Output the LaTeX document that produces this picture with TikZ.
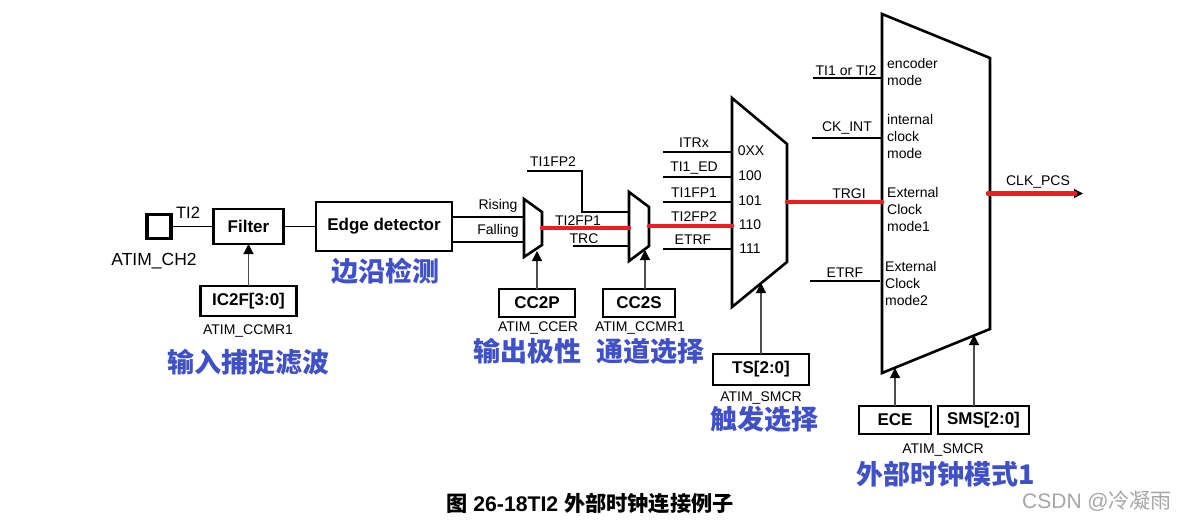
\documentclass[tikz,border=0pt]{standalone}
\usepackage{fontspec}
\setmainfont{Liberation Sans}
\newfontfamily\cjk{Noto Sans CJK SC}
\usetikzlibrary{arrows.meta}
\definecolor{cnblue}{RGB}{64,80,200}
\definecolor{sigred}{RGB}{238,28,37}
\tikzset{
	lab/.style={inner sep=0,font=\fontsize{14}{17}\selectfont},
	pinlab/.style={inner sep=0,font=\fontsize{16.5}{20}\selectfont},
	sel/.style={draw,line width=2.4,inner sep=0,outer sep=0,font=\fontsize{17}{20}\selectfont\bfseries},
	cnlab/.style={inner sep=0,text=cnblue,font=\fontsize{27}{30}\selectfont\cjk\bfseries},
	wire/.style={line width=1.7},
	sigline/.style={sigred,line width=4.5,line cap=round},
	ctl/.style={-{Triangle[length=10pt,width=10pt,black]},black!70,line width=1.2},
	mux/.style={line width=2.6}
}
\begin{document}
\begin{tikzpicture}[x=1pt,y=-1pt, line join=miter, >={Triangle[length=9pt,width=9pt]}]
			\useasboundingbox (0,0) rectangle (1177,520);
			% Filter, edge detector
			\node[draw,line width=3.6,minimum width=24,minimum height=24,inner sep=0,outer sep=0] (pinCH) at (159,226.5) {};
			\node[pinlab] (lbTI) at (188,213) {TI2};
			\node[pinlab,font=\fontsize{17.5}{20}\selectfont] (lbCH) at (154,261) {ATIM\_CH2};
			\node[sel,minimum width=70,minimum height=35] (filter) at (248.5,226.5) {Filter};
			\node[sel,minimum width=136,minimum height=49] (edge) at (384,226.5) {Edge detector};
			\node[sel,minimum width=96,minimum height=30] (icf) at (248.5,301) {IC2F[3:0]};
			\node[lab] (lbCCMRa) at (248,331) {ATIM\_CCMR1};
			\node[cnlab] (cnFilter) at (248,362) {输入捕捉滤波};
			\node[cnlab] (cnEdge) at (385,271) {边沿检测};
			\draw[wire] (pinCH) -- (filter);
			\draw[wire] (filter) -- (edge);
			\draw[ctl] (icf) -- (filter);
			% Polarity mux
			\coordinate (ma) at (524,199);
			\coordinate (mb) at (542,212);
			\coordinate (mc) at (542,245);
			\coordinate (md) at (524,257);
			\coordinate (riseL) at (452,217);
			\coordinate (riseR) at (524,217);
			\coordinate (fallL) at (452,242);
			\coordinate (fallR) at (524,242);
			\coordinate (mTip) at (537,251);
			\draw[wire] (riseL) -- (riseR);
			\draw[wire] (fallL) -- (fallR);
			\draw[mux] (ma) -- (mb) -- (mc) -- (md) -- cycle;
			\node[lab] (lbRise) at (498,206) {Rising};
			\node[lab] (lbFall) at (498,231) {Falling};
			\node[sel,minimum width=76,minimum height=28] (ccp) at (537,303) {CC2P};
			\node[lab] (lbCCER) at (538,328) {ATIM\_CCER};
			\node[cnlab] (cnPol) at (527,351) {输出极性};
			\draw[ctl] (ccp) -- (mTip);
			% Channel mux
			\coordinate (na) at (629,192);
			\coordinate (nb) at (649,207);
			\coordinate (nc) at (649,246);
			\coordinate (nd) at (629,261);
			\coordinate (fpL) at (527,171);
			\coordinate (fpK) at (582,171);
			\coordinate (fpJ) at (582,212);
			\coordinate (fpR) at (629,212);
			\coordinate (trcL) at (573,246);
			\coordinate (trcR) at (629,246);
			\coordinate (nTip) at (645,250);
			\coordinate (nTail) at (645,289);
			\draw[wire] (fpL) -- (fpK) -- (fpJ) -- (fpR);
			\draw[wire] (trcL) -- (trcR);
			\draw[mux] (na) -- (nb) -- (nc) -- (nd) -- cycle;
			\node[lab] (lbFPb) at (553,162) {TI1FP2};
			\node[lab] (lbFPa) at (578,221) {TI2FP1};
			\node[lab] (lbTRC) at (584,239) {TRC};
			\node[sel,minimum width=72,minimum height=28] (ccs) at (639,303) {CC2S};
			\node[lab] (lbCCMRb) at (640,328) {ATIM\_CCMR1};
			\node[cnlab] (cnChan) at (650,351) {通道选择};
			\draw[ctl] (nTail) -- (nTip);
			% Trigger mux
			\coordinate (ta) at (732,98);
			\coordinate (tb) at (787,144);
			\coordinate (tc) at (787,262);
			\coordinate (td) at (732,307);
			\coordinate (inAL) at (663,152);
			\coordinate (inAR) at (732,152);
			\coordinate (inBL) at (663,177);
			\coordinate (inBR) at (732,177);
			\coordinate (inCL) at (663,202);
			\coordinate (inCR) at (732,202);
			\coordinate (inDL) at (663,249);
			\coordinate (inDR) at (732,249);
			\coordinate (tTip) at (761,283);
			\draw[wire] (inAL) -- (inAR);
			\draw[wire] (inBL) -- (inBR);
			\draw[wire] (inCL) -- (inCR);
			\draw[wire] (inDL) -- (inDR);
			\draw[mux] (ta) -- (tb) -- (tc) -- (td) -- cycle;
			\node[lab] (lbITR) at (694,143) {ITRx};
			\node[lab] (lbED) at (694,168) {TI1\_ED};
			\node[lab] (lbFPc) at (694,193) {TI1FP1};
			\node[lab] (lbFPd) at (694,217) {TI2FP2};
			\node[lab] (lbETa) at (693,240) {ETRF};
			\node[lab] (cA) at (751,151) {0XX};
			\node[lab] (cB) at (750,176) {100};
			\node[lab] (cC) at (750,201) {101};
			\node[lab] (cD) at (750,225) {110};
			\node[lab] (cE) at (750,249) {111};
			\node[sel,minimum width=96,minimum height=31] (tsel) at (761,369.5) {TS[2:0]};
			\node[lab] (lbSMa) at (761,398) {ATIM\_SMCR};
			\node[cnlab] (cnTrig) at (764,419) {触发选择};
			\draw[ctl] (tsel) -- (tTip);
			% Clock mode block
			\coordinate (ba) at (882,14);
			\coordinate (bb) at (990,58);
			\coordinate (bc) at (990,329);
			\coordinate (bd) at (882,373);
			\coordinate (enL) at (813,78);
			\coordinate (enR) at (882,78);
			\coordinate (ckL) at (812,138);
			\coordinate (ckR) at (882,138);
			\coordinate (etL) at (810,281);
			\coordinate (etR) at (880,281);
			\coordinate (eTip) at (895,368);
			\coordinate (sTip) at (974,335);
			\coordinate (sTail) at (974,406);
			\coordinate (outL) at (988,193.5);
			\coordinate (outM) at (1075,193.5);
			\coordinate (outR) at (1083,193.5);
			\draw[wire] (enL) -- (enR);
			\draw[wire] (ckL) -- (ckR);
			\draw[wire] (etL) -- (etR);
			\draw[mux] (ba) -- (bb) -- (bc) -- (bd) -- cycle;
			\node[lab] (lbEn) at (846,71) {TI1 or TI2};
			\node[lab] (lbCk) at (847,128) {CK\_INT};
			\node[lab] (lbTR) at (849,194) {TRGI};
			\node[lab] (lbETb) at (845,273) {ETRF};
			\node[lab,align=left,anchor=west] (mdEn) at (887,71.5) {encoder\\mode};
			\node[lab,align=left,anchor=west] (mdCk) at (887,136) {internal\\clock\\mode};
			\node[lab,align=left,anchor=west] (mdOne) at (887,209) {External\\Clock\\mode1};
			\node[lab,align=left,anchor=west] (mdTwo) at (885,283) {External\\Clock\\mode2};
			\node[lab] (lbPCS) at (1038,182) {CLK\_PCS};
			\node[sel,minimum width=72,minimum height=28] (ece) at (895,420) {ECE};
			\node[sel,minimum width=91,minimum height=28] (sms) at (983.5,420) {SMS[2:0]};
			\node[lab] (lbSMb) at (943,450) {ATIM\_SMCR};
			\node[cnlab] (cnMode) at (946,474) {外部时钟模式1};
			\draw[ctl] (ece) -- (eTip);
			\draw[ctl] (sTail) -- (sTip);
			\draw[->,line width=1.5] (outM) -- (outR);
			% Red signal path
			\draw[sigline] (mb |- 0,228) -- (na |- 0,228);
			\draw[sigline] (nb |- 0,226) -- (ta |- 0,226);
			\draw[sigline] (tb |- 0,202) -- (ba |- 0,202);
			\draw[sigline] (outL) -- (outM);
			% Caption
			\node[inner sep=0,font=\fontsize{21.2}{24}\selectfont\bfseries] (caption) at (590,503) {{\cjk 图} 26-18TI2 {\cjk 外部时钟连接例子}};
			\node[inner sep=0,text=black!35,font=\fontsize{21}{24}\selectfont] (mark) at (1097,501) {CSDN @{\cjk 冷凝雨}};
		\end{tikzpicture}
\end{document}
